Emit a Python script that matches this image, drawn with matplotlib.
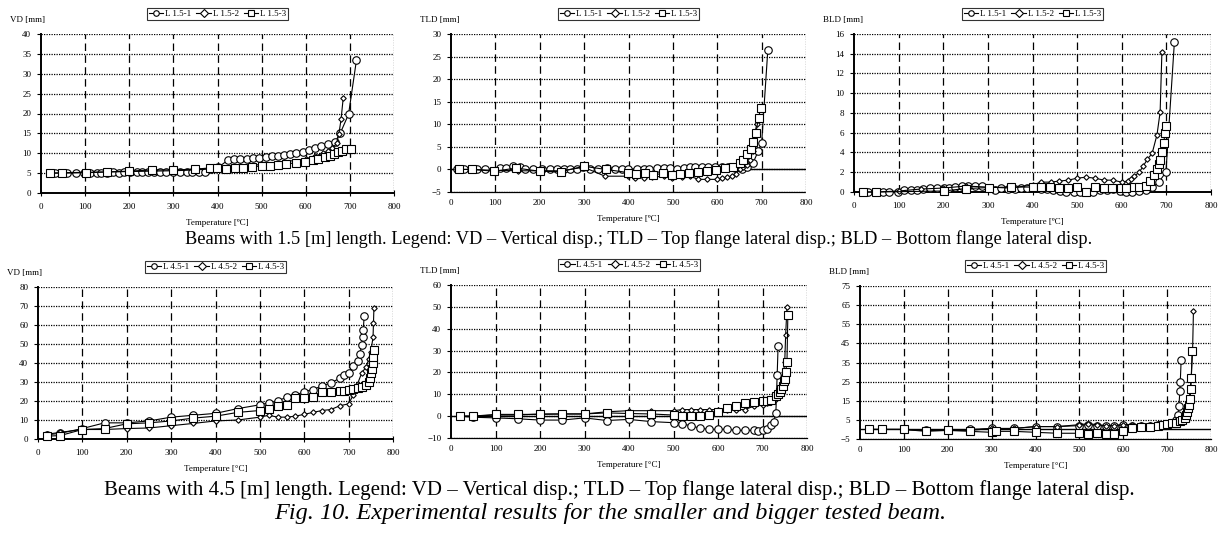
import matplotlib
matplotlib.use("Agg")
import matplotlib.pyplot as plt

plt.rcParams['font.family'] = ['Liberation Serif', 'DejaVu Serif']

# ---------------- data: beams 1.5 m ----------------
vd15_1_t = [20, 32, 47, 58, 79, 98, 111, 126, 137, 149, 164, 177, 188, 201, 217, 228, 243, 256, 269, 283,
            300, 315, 330, 343, 358, 371, 385, 402, 423, 438, 452, 466, 481, 494, 509, 523, 537, 551, 565, 579,
            594, 608, 621, 635, 651, 666, 678, 697, 715]
vd15_1 = [5.0, 5.0, 5.0, 5.0, 5.1, 5.1, 5.1, 5.1, 5.1, 5.1, 5.2, 5.1, 5.2, 5.2, 5.2, 5.2, 5.2, 5.2, 5.3, 5.2,
          5.2, 5.2, 5.2, 5.2, 5.2, 5.2, 6.0, 6.5, 8.2, 8.5, 8.5, 8.6, 8.7, 8.8, 9.0, 9.2, 9.4, 9.5, 9.8, 10.0,
          10.4, 10.8, 11.2, 11.7, 12.3, 12.8, 15.0, 19.8, 33.5]
vd15_2_t = [20, 50, 100, 150, 200, 250, 300, 350, 400, 450, 500, 550, 600, 620, 640, 650, 660, 670, 675, 680, 685]
vd15_2 = [5.0, 5.1, 5.2, 5.3, 5.4, 5.5, 5.6, 5.8, 6.2, 6.7, 7.2, 7.8, 8.6, 9.3, 10.0, 10.5, 11.2, 12.5, 14.8, 18.5, 24.0]
vd15_3_t = [20, 47, 102, 150, 200, 251, 300, 349, 383, 398, 420, 439, 458, 478, 500, 518, 537, 556, 577, 598,
            617, 628, 643, 654, 664, 673, 683, 692, 703]
vd15_3 = [5.0, 5.0, 5.1, 5.3, 5.5, 5.8, 5.8, 6.0, 6.3, 6.2, 6.1, 6.2, 6.4, 6.6, 6.8, 6.9, 7.1, 7.3, 7.6, 7.9,
          8.2, 8.6, 9.0, 9.4, 9.8, 10.2, 10.6, 11.0, 11.0]

tld15_1_t = [14, 29, 58, 77, 110, 125, 140, 155, 167, 185, 206, 223, 238, 254, 269, 283, 298, 313, 332, 351,
             370, 385, 399, 419, 434, 447, 464, 479, 494, 509, 524, 539, 550, 565, 580, 595, 610, 625, 640, 655,
             666, 681, 692, 700, 714]
tld15_1 = [0.0, 0.0, 0.0, 0.0, 0.3, 0.3, 0.7, 0.5, 0.0, 0.0, 0.2, 0.0, 0.0, 0.2, 0.0, 0.2, 0.5, 0.2, 0.2, 0.3,
           0.2, 0.1, 0.1, 0.1, 0.2, 0.2, 0.3, 0.4, 0.3, 0.2, 0.4, 0.5, 0.6, 0.6, 0.5, 0.6, 0.5, 0.5, 0.3, 0.0,
           0.5, 1.5, 4.0, 5.8, 26.5]
tld15_2_t = [14, 47, 96, 150, 201, 250, 299, 347, 399, 415, 434, 452, 479, 497, 520, 539, 557, 576, 599, 610,
             621, 633, 642, 651, 659, 668, 674, 680, 684, 689]
tld15_2 = [0.0, 0.0, -0.2, -0.3, -0.3, -0.3, 0.5, -1.5, -1.5, -1.8, -1.8, -1.7, -1.5, -1.8, -1.7, -1.5, -2.2, -2.2, -2.2, -2.0,
           -1.7, -1.5, -1.0, 0.0, 0.5, 1.0, 2.0, 4.0, 7.7, 10.0]
tld15_3_t = [17, 47, 98, 147, 200, 248, 299, 349, 399, 418, 437, 455, 478, 497, 517, 537, 557, 578, 598, 617,
             636, 651, 658, 667, 676, 681, 687, 693, 698]
tld15_3 = [0.0, 0.0, -0.4, 0.3, -0.4, -0.5, 0.7, 0.0, -0.7, -1.0, -0.9, -1.2, -0.9, -1.2, -1.0, -0.7, -0.5, -0.3, -0.2, 0.3,
           0.5, 1.5, 2.0, 3.4, 4.5, 6.0, 8.0, 11.5, 13.5]

bld15_1_t = [20, 31, 47, 64, 78, 98, 113, 127, 142, 155, 171, 186, 201, 214, 227, 243, 256, 271, 286, 302,
             315, 330, 346, 360, 374, 388, 403, 418, 432, 447, 462, 476, 492, 507, 522, 536, 551, 566, 580, 595,
             610, 623, 639, 654, 668, 683, 699, 718]
bld15_1 = [0.0, 0.0, 0.0, 0.0, 0.0, 0.0, 0.25, 0.25, 0.25, 0.3, 0.45, 0.45, 0.4, 0.4, 0.5, 0.6, 0.65, 0.6, 0.6, 0.45,
           0.25, 0.45, 0.35, 0.35, 0.45, 0.45, 0.55, 0.3, 0.3, 0.2, 0.1, 0.05, 0.0, 0.05, 0.0, 0.05, 0.2, 0.2, 0.3, 0.1,
           0.0, 0.05, 0.1, 0.2, 0.5, 1.0, 2.0, 15.2]
bld15_2_t = [20, 50, 100, 150, 200, 250, 300, 350, 400, 419, 441, 459, 480, 500, 520, 540, 560, 580, 600, 613,
             620, 628, 639, 648, 657, 668, 679, 686, 690]
bld15_2 = [0.0, 0.0, 0.1, 0.3, 0.4, 0.6, 0.5, 0.4, 0.7, 1.0, 1.0, 1.1, 1.2, 1.4, 1.5, 1.4, 1.2, 1.2, 1.0, 1.1,
           1.3, 1.6, 2.0, 2.6, 3.3, 3.9, 5.8, 8.1, 14.2]
bld15_3_t = [20, 49, 201, 250, 302, 352, 401, 419, 440, 459, 480, 500, 520, 540, 560, 579, 599, 610, 628, 639,
             654, 664, 672, 679, 683, 686, 690, 694, 697, 700]
bld15_3 = [0.0, 0.0, 0.1, 0.35, 0.45, 0.5, 0.5, 0.5, 0.5, 0.45, 0.45, 0.5, 0.05, 0.5, 0.4, 0.4, 0.4, 0.4, 0.5, 0.5,
           0.6, 1.1, 1.7, 2.3, 2.8, 3.2, 4.0, 5.0, 6.0, 6.7]

# ---------------- data: beams 4.5 m ----------------
vd45_1_t = [20, 50, 100, 150, 200, 250, 300, 350, 400, 450, 500, 520, 540, 560, 580, 600, 620, 640, 660, 680,
            690, 700, 710, 720, 725, 730, 732, 733, 735]
vd45_1 = [2.2, 3.0, 5.5, 8.5, 8.5, 9.5, 11.5, 12.5, 13.5, 16.0, 18.0, 19.0, 20.0, 22.0, 23.0, 25.0, 26.0, 28.0, 29.5, 32.0,
          33.5, 35.0, 38.5, 41.0, 45.0, 49.5, 53.5, 57.5, 64.5]
vd45_2_t = [20, 50, 100, 150, 200, 250, 300, 350, 400, 450, 500, 520, 540, 560, 580, 600, 620, 640, 660, 680,
            700, 710, 720, 730, 740, 745, 750, 755, 756, 757]
vd45_2 = [2.5, 3.5, 5.0, 5.0, 5.5, 5.8, 7.0, 8.2, 9.5, 10.0, 11.5, 12.5, 11.5, 11.5, 12.0, 13.0, 14.0, 15.0, 15.5, 17.5,
          18.5, 23.0, 29.0, 35.0, 38.0, 42.0, 46.0, 53.5, 61.0, 69.0]
vd45_3_t = [20, 50, 100, 150, 200, 250, 300, 350, 400, 450, 500, 520, 540, 560, 580, 600, 620, 640, 660, 680,
            690, 700, 710, 720, 730, 740, 745, 748, 750, 752, 754, 756, 757]
vd45_3 = [1.5, 1.8, 5.0, 5.5, 8.0, 8.5, 9.5, 11.0, 12.0, 14.0, 15.0, 16.0, 17.5, 18.0, 21.5, 21.5, 22.0, 24.5, 25.0, 25.5,
          25.5, 26.0, 26.5, 27.0, 27.5, 28.5, 30.0, 32.0, 35.0, 37.0, 40.0, 43.0, 47.0]

tld45_1_t = [20, 50, 100, 150, 200, 250, 300, 350, 400, 450, 500, 520, 540, 560, 580, 600, 620, 640, 660, 680,
             690, 700, 710, 720, 725, 730, 733, 735]
tld45_1 = [0.0, -0.5, -0.8, -1.2, -1.8, -1.8, -0.8, -2.0, -1.5, -2.5, -3.0, -3.5, -4.5, -5.5, -6.0, -6.0, -6.0, -6.5, -6.5, -6.5,
           -7.0, -6.5, -6.0, -4.0, -2.5, 1.5, 19.0, 32.0]
tld45_2_t = [20, 50, 100, 150, 200, 250, 300, 350, 400, 450, 500, 520, 540, 560, 580, 600, 620, 640, 660, 680,
             700, 710, 720, 730, 740, 745, 750, 752, 755]
tld45_2 = [0.0, 0.0, 0.5, 0.5, 1.0, 1.0, 1.0, 2.0, 2.5, 2.5, 2.5, 3.0, 3.0, 3.0, 3.0, 3.0, 3.0, 3.0, 3.0, 4.5,
           5.0, 6.0, 6.5, 8.0, 11.0, 15.0, 25.0, 37.0, 50.0]
tld45_3_t = [20, 50, 100, 150, 200, 250, 300, 350, 400, 450, 500, 520, 540, 560, 580, 600, 620, 640, 660, 680,
             700, 710, 720, 730, 735, 740, 742, 745, 748, 750, 752, 755, 757]
tld45_3 = [0.0, 0.0, 0.8, 0.8, 0.8, 1.0, 1.0, 1.5, 1.2, 1.0, 0.5, 0.0, 0.0, 0.0, 0.5, 2.0, 3.5, 4.5, 6.0, 6.5,
           7.0, 7.0, 7.5, 9.0, 10.0, 11.0, 12.5, 14.0, 16.0, 17.0, 20.0, 25.0, 46.5]

bld45_1_t = [20, 50, 100, 150, 200, 250, 300, 350, 400, 450, 500, 520, 540, 560, 580, 600, 620, 640, 660, 680,
             700, 710, 720, 725, 727, 729, 730, 732]
bld45_1 = [0.0, 0.0, 0.0, -0.5, -0.5, 0.0, 0.5, 0.5, 1.5, 1.5, 2.0, 2.5, 2.0, 2.0, 2.0, 2.5, 2.0, 2.0, 2.0, 2.5,
           3.0, 3.5, 5.0, 7.5, 12.5, 20.0, 25.0, 36.5]
bld45_2_t = [20, 50, 100, 150, 200, 250, 300, 350, 400, 450, 500, 520, 540, 560, 580, 600, 620, 640, 660, 680,
             700, 720, 740, 750, 755, 758, 760]
bld45_2 = [0.0, 0.0, 0.0, -0.5, -0.5, -0.5, 0.5, 0.5, 1.5, 1.5, 2.5, 3.0, 2.5, 2.0, 2.0, 2.5, 2.5, 2.5, 2.5, 3.0,
           3.5, 4.5, 8.0, 15.0, 27.0, 41.0, 62.0]
bld45_3_t = [20, 50, 100, 150, 200, 250, 300, 310, 350, 400, 450, 500, 520, 540, 560, 580, 600, 620, 640, 660,
             680, 690, 700, 710, 720, 730, 735, 740, 743, 745, 748, 750, 752, 754, 755, 757]
bld45_3 = [0.0, 0.0, 0.0, -1.0, -0.5, -1.0, -1.5, -1.0, -1.0, -1.5, -2.0, -2.0, -2.5, -2.0, -2.5, -2.5, -1.0, 0.5, 1.5, 1.5,
           2.0, 2.5, 3.0, 3.5, 3.5, 4.5, 5.0, 6.0, 7.5, 9.0, 11.0, 13.0, 16.0, 21.0, 27.0, 41.0]

labels15 = ["L 1.5-1", "L 1.5-2", "L 1.5-3"]
labels45 = ["L 4.5-1", "L 4.5-2", "L 4.5-3"]
x_ticks = [0, 100, 200, 300, 400, 500, 600, 700, 800]

panels = [
    ("VD [mm]", [(vd15_1_t, vd15_1), (vd15_2_t, vd15_2), (vd15_3_t, vd15_3)], labels15,
     (0, 40), list(range(0, 41, 5)), (41, 34, 394, 193), "Temperature [ºC]"),
    ("TLD [mm]", [(tld15_1_t, tld15_1), (tld15_2_t, tld15_2), (tld15_3_t, tld15_3)], labels15,
     (-5, 30), list(range(-5, 31, 5)), (451, 34, 806, 192), "Temperature [ºC]"),
    ("BLD [mm]", [(bld15_1_t, bld15_1), (bld15_2_t, bld15_2), (bld15_3_t, bld15_3)], labels15,
     (0, 16), list(range(0, 17, 2)), (854, 34, 1211, 192), "Temperature [ºC]"),
    ("VD [mm]", [(vd45_1_t, vd45_1), (vd45_2_t, vd45_2), (vd45_3_t, vd45_3)], labels45,
     (0, 80), list(range(0, 81, 10)), (38, 287, 393, 439), "Temperature [°C]"),
    ("TLD [mm]", [(tld45_1_t, tld45_1), (tld45_2_t, tld45_2), (tld45_3_t, tld45_3)], labels45,
     (-10, 60), list(range(-10, 61, 10)), (451, 285, 807, 438), "Temperature [°C]"),
    ("BLD [mm]", [(bld45_1_t, bld45_1), (bld45_2_t, bld45_2), (bld45_3_t, bld45_3)], labels45,
     (-5, 75), list(range(-5, 76, 10)), (860, 286, 1211, 439), "Temperature [°C]"),
]

W, H = 1222, 536
fig = plt.figure(figsize=(W / 100, H / 100), dpi=100)

markers = [("o", 5.4), ("D", 2.8), ("s", 5.3)]
dot = (0, (1, 1))
dash = (0, (6, 3.5))

for ylab, series, labs, ylim, yticks, (x0, y0, x1, y1), xlab in panels:
    ax = fig.add_axes([x0 / W, 1 - y1 / H, (x1 - x0) / W, (y1 - y0) / H])
    ax.set_xlim(0, 800)
    ax.set_ylim(*ylim)
    for yv in yticks:
        if yv != 0 or ylim[0] != 0:
            ax.axhline(yv, color="black", lw=0.9, ls=dot, zorder=1)
    for xv in x_ticks[1:-1]:
        ax.axvline(xv, color="black", lw=0.9, ls=dash, zorder=1)
    ax.axvline(800, color="black", lw=0.9, ls=dot, zorder=1)
    if ylim[0] < 0:
        ax.axhline(0, color="black", lw=1.0, zorder=1.5)
    for (t, v), (mk, ms), lab in zip(series, markers, labs):
        ax.plot(t, v, color="black", lw=0.8, marker=mk, ms=ms, mfc="white", mec="black",
                mew=0.8, label=lab, zorder=3, clip_on=False)
    ax.set_xticks(x_ticks)
    ax.set_yticks(yticks)
    ax.tick_params(labelsize=6.5, length=3, width=0.8, pad=4)
    ax.tick_params(axis="x", direction="inout", length=4, pad=5)
    for s in ("top", "right"):
        ax.spines[s].set_visible(False)
    ax.spines["left"].set_linewidth(1.4)
    if ylim[0] < 0:
        ax.spines["bottom"].set_linestyle(dot)
        ax.spines["bottom"].set_linewidth(0.9)
        ax.tick_params(axis="x", length=0)
    else:
        ax.spines["bottom"].set_linewidth(1.4)
    ax.set_xlabel(xlab, fontsize=6.5, labelpad=6)
    fig.text((x0 - 31) / W, 1 - (y0 - 14) / H, ylab, fontsize=6.5, ha="left", va="center")
    leg = ax.legend(loc="center", bbox_to_anchor=((x0 + x1) / 2 / W, 1 - (y0 - 20) / H),
                    bbox_transform=fig.transFigure, ncol=3, fontsize=6.5, frameon=True,
                    fancybox=False, edgecolor="black", handlelength=1.6, handletextpad=0.2,
                    columnspacing=0.6, borderpad=0.2, borderaxespad=0)
    leg.get_frame().set_linewidth(0.8)
    for h in leg.legend_handles:
        h.set_markersize(4)

fig.text(639 / W, 1 - 239 / H,
         "Beams with 1.5 [m] length. Legend: VD – Vertical disp.; TLD – Top flange lateral disp.; BLD – Bottom flange lateral disp.",
         ha="center", va="center", fontsize=13.2)
fig.text(619 / W, 1 - 490 / H,
         "Beams with 4.5 [m] length. Legend: VD – Vertical disp.; TLD – Top flange lateral disp.; BLD – Bottom flange lateral disp.",
         ha="center", va="center", fontsize=15)
fig.text(610 / W, 1 - 513 / H, "Fig. 10. Experimental results for the smaller and bigger tested beam.",
         ha="center", va="center", fontsize=17.5, style="italic")

fig.savefig("out.png", dpi=100, facecolor="white")
